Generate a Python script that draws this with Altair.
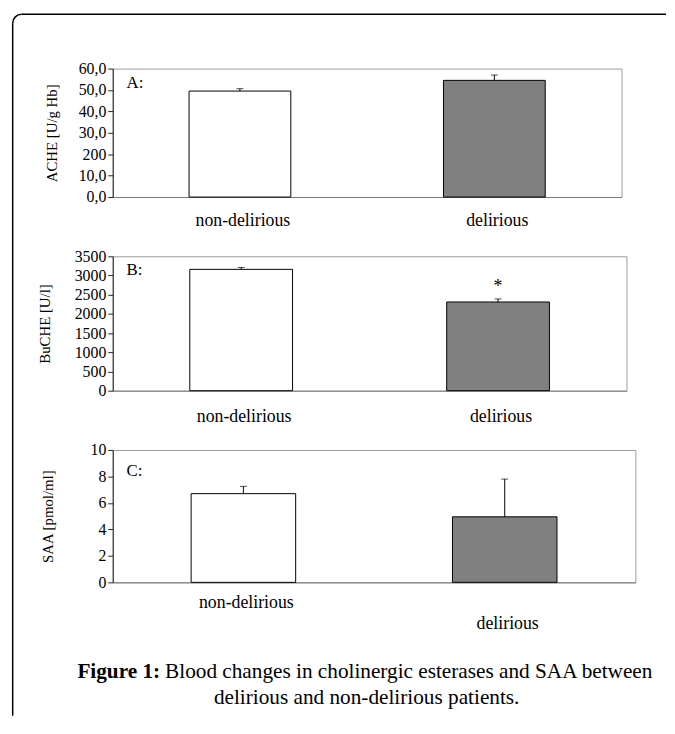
import json
import altair as alt
import pandas as pd

# ---------------- data ----------------
groups = ["non-delirious", "delirious"]

ache_mean = [49.5, 54.5]
ache_err = [50.6, 57.0]
ache_ticks = [0, 10, 20, 30, 40, 50, 60]
ache_tick_labels = ["0,0", "10,0", "200", "30,0", "40,0", "50,0", "60,0"]

buche_mean = [3160, 2310]
buche_err = [3210, 2390]
buche_ticks = [0, 500, 1000, 1500, 2000, 2500, 3000, 3500]

saa_mean = [6.7, 4.95]
saa_err = [7.25, 7.8]
saa_ticks = [0, 2, 4, 6, 8, 10]

sig_marks = ["", "*"]  # significance marker for BuCHE

caption_bold = "Figure 1:"
caption_rest = "Blood changes in cholinergic esterases and SAA between"
caption_line2 = "delirious and non-delirious patients."

SERIF = "Liberation Serif"
FRAME_X = -101.25   # centre of left frame line, relative to plot left
SW = 1.5            # frame line width
one = pd.DataFrame({"k": [0]})


def panel(mean, err, ymax, ticks, label_expr, ytitle, title_x, letter, letter_y,
          width, height, lab_pad, stagger=False, sig=None):
    df = pd.DataFrame({"group": groups, "mean": mean, "err": err})
    if sig is not None:
        df["sig"] = sig
    xaxis = dict(title=None, labelAngle=0, ticks=False, tickSize=0,
                 labelFont=SERIF, labelFontSize=18, labelColor="black",
                 labelPadding=lab_pad, labelOffset=3, domainColor="#7a7a7a")
    if stagger:
        xaxis["labelExpr"] = "datum.value == 'delirious' ? ['', 'delirious'] : datum.value"
        xaxis["labelLineHeight"] = 22
    xscale = alt.Scale(paddingInner=0.6, paddingOuter=0.3)
    xax = alt.Axis(**xaxis)
    yaxis = alt.Axis(values=ticks, labelExpr=label_expr, title=ytitle,
                     titleFont=SERIF, titleFontSize=15, titleFontWeight="normal",
                     titleColor="black", titleX=title_x, titleY=height / 2,
                     titleAngle=270, titleBaseline="middle", titleAlign="center",
                     labelFont=SERIF, labelFontSize=16, labelColor="black",
                     labelOverlap=False, labelPadding=2, tickSize=5, tickColor="#222",
                     domainColor="#222", grid=False)
    yscale = alt.Scale(domain=[0, ymax], nice=False)

    def X():
        return alt.X("group:N", sort=groups, scale=xscale, axis=xax)

    def Y(f):
        return alt.Y(f, scale=yscale, axis=yaxis, title=ytitle)

    base = alt.Chart(df)
    bars = base.mark_bar(stroke="black", strokeWidth=1).encode(
        x=X(), y=Y("mean:Q"),
        fill=alt.Fill("group:N", scale=alt.Scale(domain=groups, range=["white", "#808080"]),
                      legend=None),
    )
    erule = base.mark_rule(color="black", strokeWidth=1).encode(
        x=X(), y=Y("mean:Q"), y2="err:Q")
    etick = base.mark_tick(color="black", size=7, thickness=1).encode(
        x=X(), y=Y("err:Q"))
    lab = alt.Chart(one).mark_text(font=SERIF, fontSize=17, align="left",
                                   baseline="middle", color="black").encode(
        x=alt.value(14), y=alt.value(letter_y), text=alt.value(letter))
    layers = [bars, erule, etick, lab]
    if sig is not None:
        layers.append(base.mark_text(font=SERIF, fontSize=18, baseline="alphabetic",
                                     dy=-7, color="black").encode(
            x=X(), y=Y("err:Q"), text="sig:N"))
    return alt.layer(*layers).properties(width=width, height=height)


def idx_expr(ticks, labels):
    return "%s[indexof(%s, datum.value)]" % (json.dumps(labels), json.dumps(ticks))


pA = panel(ache_mean, ache_err, 60, ache_ticks, idx_expr(ache_ticks, ache_tick_labels),
           "ACHE [U/g Hb]", -62, "A:", 15, 515, 130, 15)
# page frame (top line, rounded corner, left line), drawn with panel A
top_line = alt.Chart(one).mark_rect(color="black").encode(
    x=alt.value(FRAME_X + 9), x2=alt.value(560),
    y=alt.value(-55 - SW / 2), y2=alt.value(-55 + SW / 2))
corner = alt.Chart(one).mark_arc(radius=9 + SW / 2, radius2=9 - SW / 2, color="black").encode(
    x=alt.value(FRAME_X + 9), y=alt.value(-46),
    theta=alt.value(4.712389), theta2=alt.value(6.283185))
left_line = alt.Chart(one).mark_rect(color="black").encode(
    x=alt.value(FRAME_X - SW / 2), x2=alt.value(FRAME_X + SW / 2),
    y=alt.value(-46), y2=alt.value(655))
pA = alt.layer(pA, top_line, corner, left_line)

pB = panel(buche_mean, buche_err, 3500, buche_ticks, "format(datum.value, 'd')",
           "BuCHE [U/l]", -69, "B:", 14, 520, 136, 17, sig=sig_marks)
pC = panel(saa_mean, saa_err, 10, saa_ticks, "format(datum.value, 'd')",
           "SAA [pmol/ml]", -66, "C:", 21, 529, 134, 11, stagger=True)

CAP_FS = 21.5
cap_bold = alt.Chart(one).mark_text(font=SERIF, fontSize=CAP_FS, fontWeight="bold",
                                    align="right", baseline="middle", color="black").encode(
    x=alt.value(48), y=alt.value(31), text=alt.value(caption_bold))
cap_rest = alt.Chart(one).mark_text(font=SERIF, fontSize=CAP_FS, align="left",
                                    baseline="middle", color="black").encode(
    x=alt.value(53), y=alt.value(31), text=alt.value(caption_rest))
cap_l2 = alt.Chart(one).mark_text(font=SERIF, fontSize=CAP_FS, align="center",
                                  baseline="middle", color="black").encode(
    x=alt.value(257), y=alt.value(57), text=alt.value(caption_line2))
cap = alt.layer(cap_bold, cap_rest, cap_l2).properties(
    width=515, height=60, view=alt.ViewBackground(stroke="transparent"))

chart = alt.vconcat(pA, pB, pC, cap, spacing=60, bounds="flush").properties(
    padding={"left": 3, "top": 0, "right": 0, "bottom": 0}, background="white"
).configure(font=SERIF).configure_view(stroke="#9a9a9a", strokeWidth=1).configure_axis(
    grid=False, labelFont=SERIF, titleFont=SERIF)

chart.save("out.html", embed_options={"renderer": "svg", "actions": False})
